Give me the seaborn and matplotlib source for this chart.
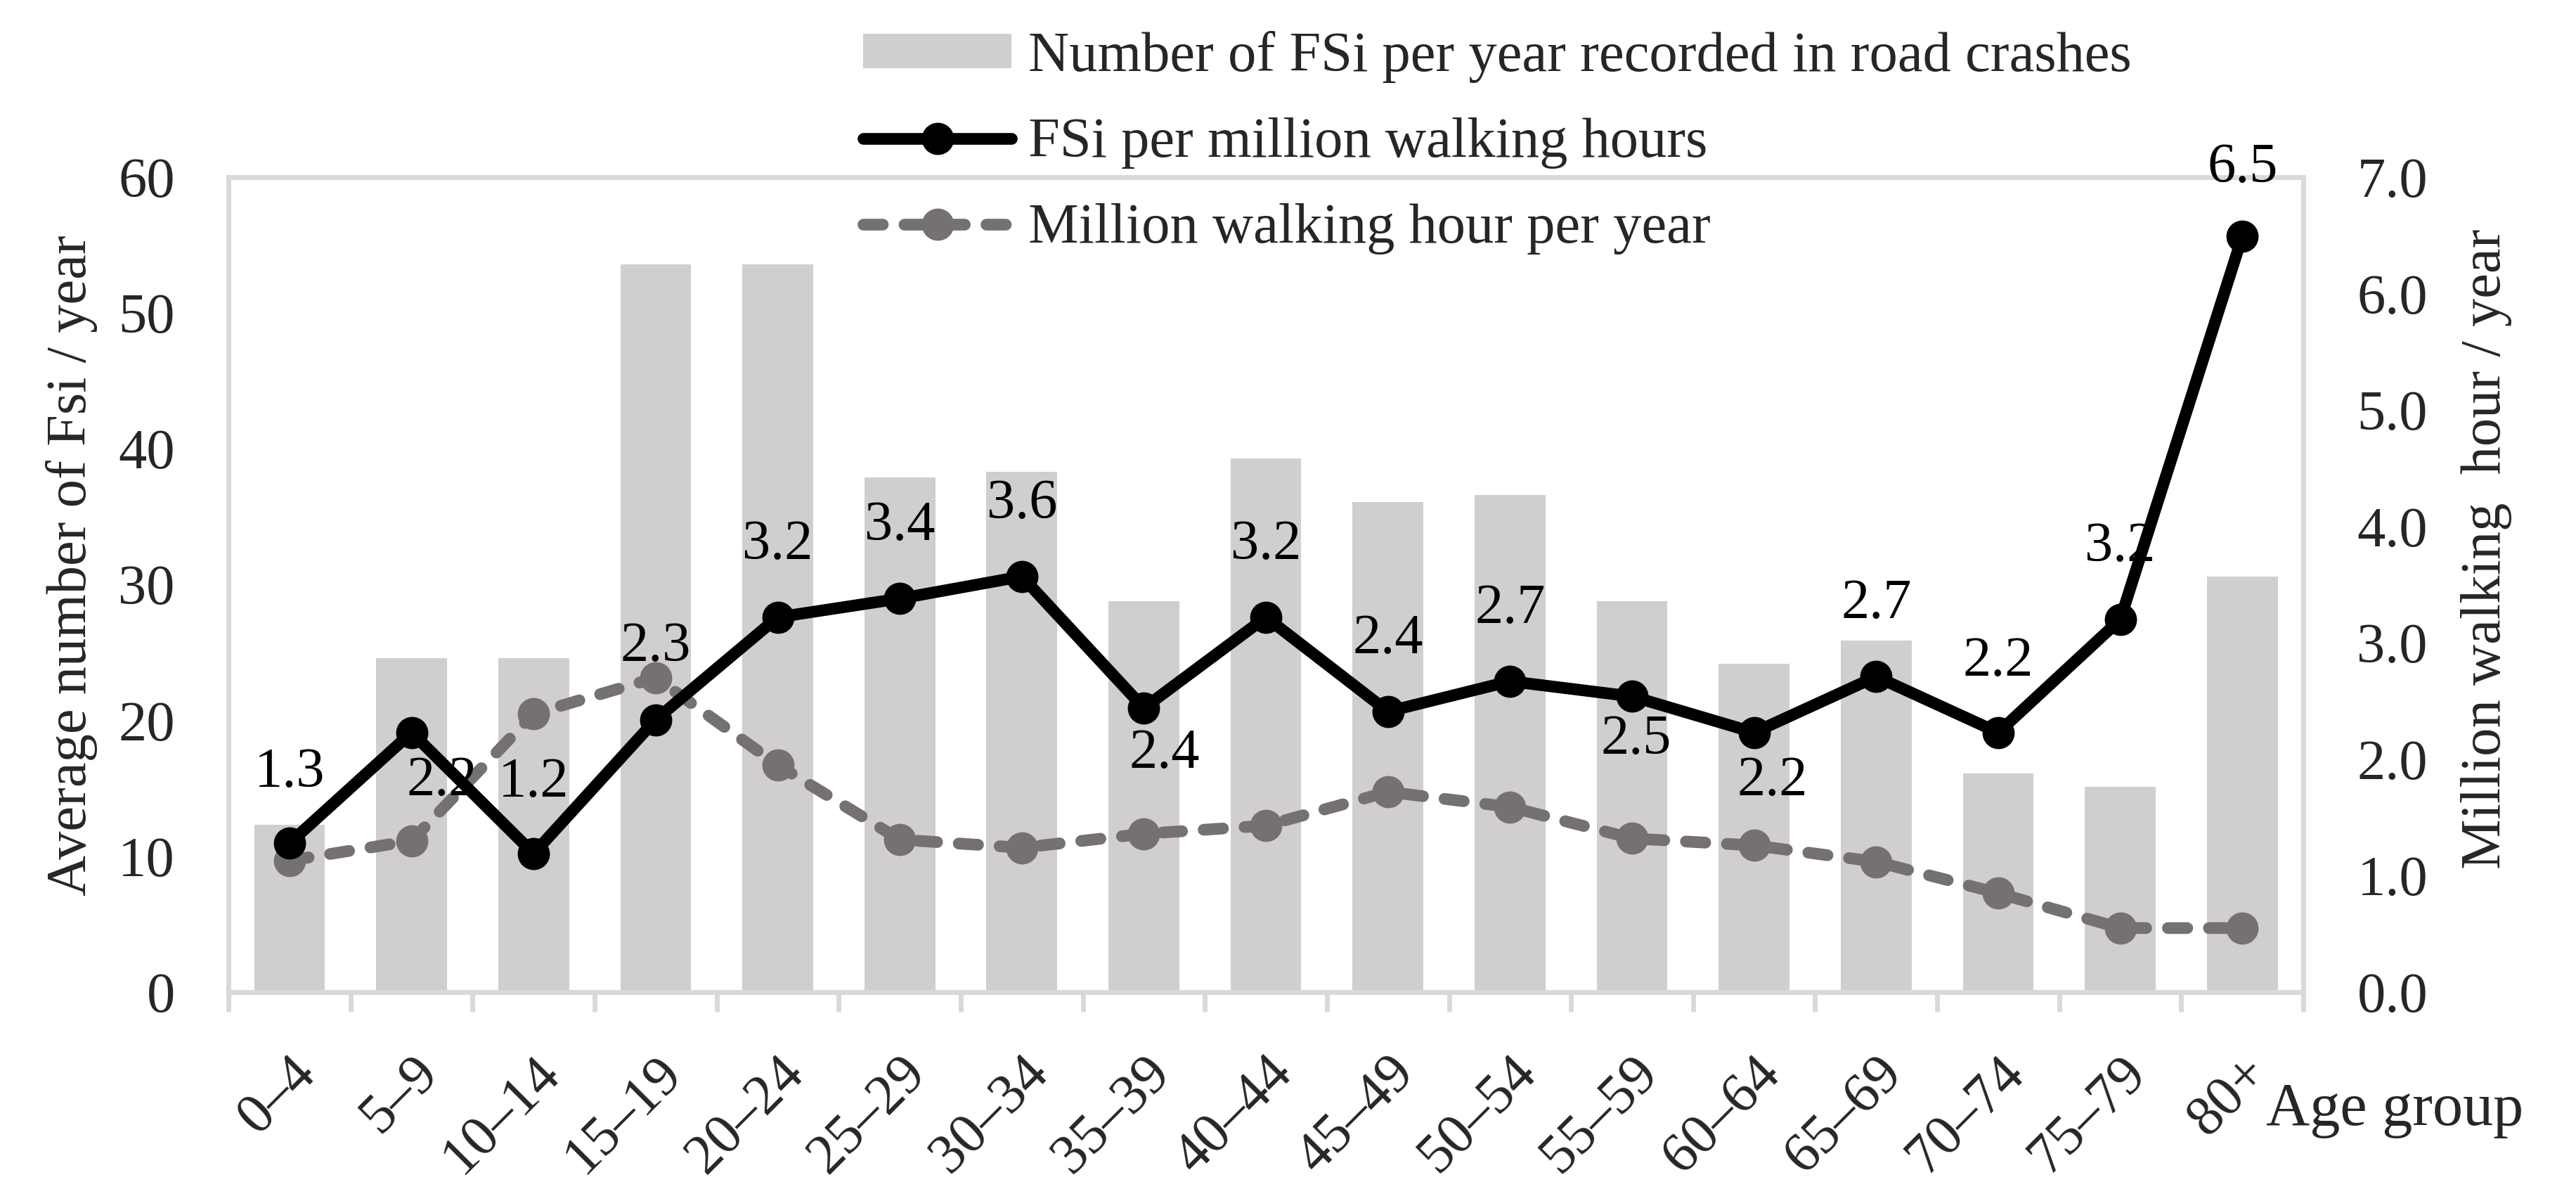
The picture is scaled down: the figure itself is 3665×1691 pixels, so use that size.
import numpy as np
import matplotlib
matplotlib.use("Agg")
import matplotlib.pyplot as plt
from matplotlib.patches import Patch
from matplotlib.lines import Line2D
import seaborn as sns

# ---------------- data ----------------
age_groups = ["0–4", "5–9", "10–14", "15–19", "20–24", "25–29", "30–34", "35–39",
              "40–44", "45–49", "50–54", "55–59", "60–64", "65–69", "70–74", "75–79", "80+"]
fsi_per_year = [12.3, 24.6, 24.6, 53.6, 53.6, 37.9, 38.3, 28.8, 39.3, 36.1, 36.6,
                28.8, 24.2, 25.9, 16.1, 15.1, 30.6]
fsi_per_million_hours = [1.28, 2.23, 1.19, 2.34, 3.22, 3.38, 3.57, 2.44, 3.22, 2.41,
                         2.67, 2.54, 2.23, 2.71, 2.23, 3.20, 6.49]
million_walking_hours = [1.13, 1.30, 2.39, 2.70, 1.95, 1.31, 1.24, 1.36, 1.43, 1.72,
                         1.59, 1.32, 1.26, 1.12, 0.85, 0.55, 0.55]
left_ticks = [0, 10, 20, 30, 40, 50, 60]
right_ticks = [0.0, 1.0, 2.0, 3.0, 4.0, 5.0, 6.0, 7.0]
legend_labels = ["Number of FSi per year recorded in road crashes",
                 "FSi per million walking hours",
                 "Million walking hour per year"]

# label placement (style only): offsets in points for each data label
label_offsets = [(0, 72), (31, -50), (0, 72), (0, 74), (0, 74), (0, 74), (0, 74),
                 (21, -47), (0, 74), (0, 74), (0, 74), (4, -45), (19, -50),
                 (0, 74), (0, 72), (0, 74), (0, 70)]

# ---------------- style ----------------
sns.set_theme(style="white")
plt.rcParams["font.family"] = ["Liberation Serif", "DejaVu Serif"]
FS = 58
BAR_C = "#d0cece"
GRAY_L = "#767171"
SPINE_C = "#d9d9d9"
LW = 12
MS = 33
DASH = (0, (1.65, 1.85))

fig = plt.figure(figsize=(36.66, 16.91), dpi=100)
ax = fig.add_axes([0.0887, 0.1656, 0.8052, 0.6854])
ax2 = ax.twinx()

n = len(age_groups)
x = np.arange(n)

sns.barplot(x=age_groups, y=fsi_per_year, color=BAR_C, saturation=1, width=0.58,
            linewidth=0, ax=ax)

sns.lineplot(x=x, y=million_walking_hours, ax=ax2, color=GRAY_L, linewidth=LW,
             linestyle=DASH, dash_capstyle="round", marker="o",
             markersize=MS, markeredgewidth=0, markeredgecolor=GRAY_L, legend=False)
sns.lineplot(x=x, y=fsi_per_million_hours, ax=ax2, color="black", linewidth=LW,
             marker="o", markersize=MS, markeredgewidth=0, markeredgecolor="black",
             solid_joinstyle="round", legend=False)

for i, v in enumerate(fsi_per_million_hours):
    dx, dy = label_offsets[i]
    ax2.annotate(f"{v:.1f}", (x[i], v), xytext=(dx, dy), textcoords="offset points",
                 ha="center", va="center", fontsize=FS, color="black")

# axes limits and ticks
ax.set_xlim(-0.5, n - 0.5)
ax.set_ylim(0, 60)
ax2.set_ylim(0, 7)
ax.set_yticks(left_ticks)
ax.set_yticklabels([str(t) for t in left_ticks], fontsize=FS)
ax2.set_yticks(right_ticks)
ax2.set_yticklabels([f"{t:.1f}" for t in right_ticks], fontsize=FS)
ax.set_xticks(x)
ax.set_xticklabels(age_groups, rotation=45, ha="right", rotation_mode="anchor",
                   fontsize=FS)
ax.set_xticks(np.arange(-0.5, n), minor=True)
ax.tick_params(axis="x", which="major", length=0, pad=56)
ax.tick_params(axis="x", which="minor", length=20, width=5, color=SPINE_C,
               direction="out", bottom=True)
ax.tick_params(axis="y", length=0, pad=55)
ax2.tick_params(axis="y", length=0, pad=55)

for a in (ax, ax2):
    for s in a.spines.values():
        s.set_visible(True)
        s.set_color(SPINE_C)
        s.set_linewidth(5)
    a.grid(False)

ax.set_ylabel("Average number of Fsi / year", fontsize=FS)
ax.yaxis.set_label_coords(-0.0755, 0.524)
ax.yaxis.label.set_va("center")
ax2.set_ylabel("Million walking  hour / year", fontsize=FS)
ax2.yaxis.set_label_coords(1.0884, 0.544)
ax2.yaxis.label.set_va("center")
ax.set_xlabel("Age group", fontsize=62)
ax.xaxis.set_label_coords(0.982, -0.145)
ax.xaxis.label.set_ha("left")
ax.xaxis.label.set_va("center")

handles = [
    Patch(facecolor=BAR_C, edgecolor="none"),
    Line2D([0], [0], color="black", linewidth=LW, marker="o", markersize=MS,
           markeredgewidth=0, solid_capstyle="round"),
    Line2D([0], [0], color=GRAY_L, linewidth=LW, linestyle=DASH,
           dash_capstyle="round", marker="o", markersize=MS, markeredgewidth=0),
]
fig.legend(handles, legend_labels, loc="upper left", bbox_to_anchor=(0.335, 0.974),
           frameon=False, borderpad=0, borderaxespad=0, handlelength=2.62,
           handleheight=0.57, handletextpad=0.3, labelspacing=0.61, fontsize=FS)

fig.savefig("out.png", dpi=100)
